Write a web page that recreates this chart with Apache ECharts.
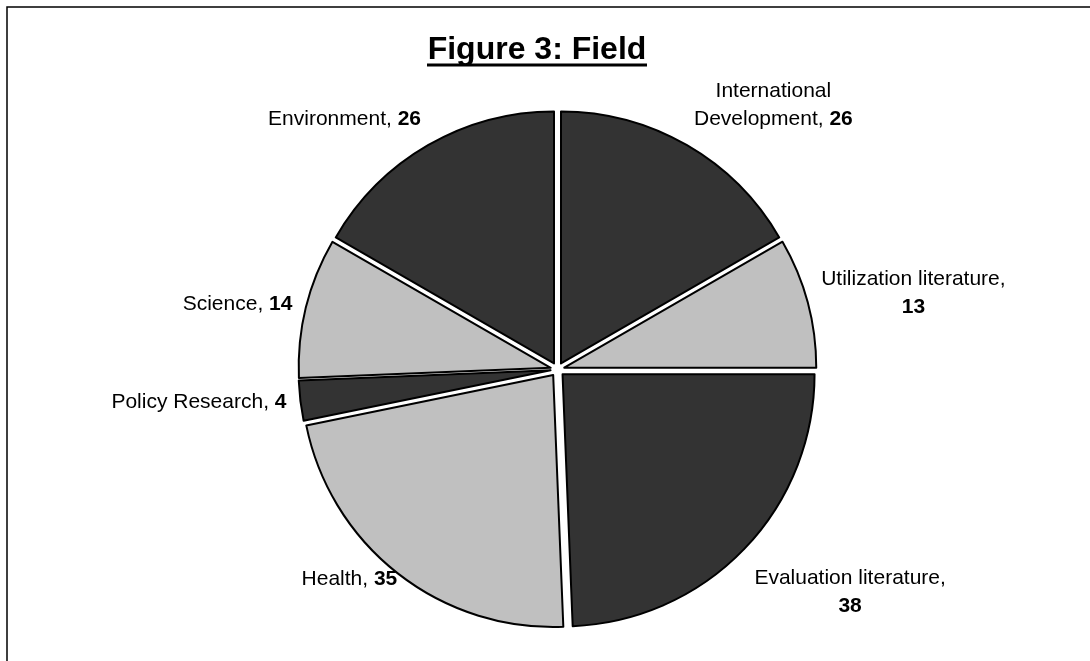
<!DOCTYPE html>
<html>
<head>
<meta charset="utf-8">
<script src="https://cdn.jsdelivr.net/npm/echarts@6/dist/echarts.min.js"></script>
<style>
html,body{margin:0;padding:0;background:#fff;}
#chart{width:1090px;height:661px;}
</style>
</head>
<body>
<div id="chart"></div>
<script>
// ---- data ----
const titleText = 'Figure 3: Field';
const categories = ['International\nDevelopment', 'Utilization literature', 'Evaluation literature', 'Health', 'Policy Research', 'Science', 'Environment'];
const values = [26, 13, 38, 35, 4, 14, 26];
const valueOnNewLine = [false, true, true, false, false, false, false];
const sliceColors = ['#333333', '#c0c0c0', '#333333', '#c0c0c0', '#333333', '#c0c0c0', '#333333'];
// label placement relative to its anchor on the slice bisector (style)
const labelSideX = [1, 1, 1, -0.83, -1, -1, -1];
const labelSideY = [-1, -0.2, 1.2, -0.4, 0, 0, -1];

// ---- layout ----
const FONT = "'Liberation Sans', Arial, sans-serif";
const FS = 21, LH = 28;
const CX = 557.5, CY = 369.5, R = 252, OFFSET = 7, LABEL_GAP = 14;

const total = values.reduce((a, b) => a + b, 0);
const midAngles = [];
let acc = 0;
values.forEach(v => { midAngles.push((acc + v / 2) / total * 2 * Math.PI); acc += v; });

function labelLines(i) {
  const lines = categories[i].split('\n').map(s => [s, '']);
  const last = lines.length - 1;
  if (valueOnNewLine[i]) {
    lines[last][0] += ',';
    lines.push(['', String(values[i])]);
  } else {
    lines[last][0] += ', ';
    lines[last][1] = String(values[i]);
  }
  return lines;
}
function labelText(i) {
  return labelLines(i).map(l => (l[0] ? '{n|' + l[0] + '}' : '') + (l[1] ? '{v|' + l[1] + '}' : '')).join('\n');
}
const ctx = document.createElement('canvas').getContext('2d');
function labelSize(i) {
  const lines = labelLines(i);
  let w = 0;
  lines.forEach(l => {
    ctx.font = FS + 'px ' + FONT;
    let lw = ctx.measureText(l[0]).width;
    ctx.font = 'bold ' + FS + 'px ' + FONT;
    lw += ctx.measureText(l[1]).width;
    w = Math.max(w, lw);
  });
  return {w: w, h: lines.length * LH};
}
const richStyles = {
  n: {fontFamily: FONT, fontSize: FS, fill: '#000', lineHeight: LH, align: 'center'},
  v: {fontFamily: FONT, fontSize: FS, fill: '#000', fontWeight: 'bold', lineHeight: LH, align: 'center'}
};
const labelGraphics = values.map((v, i) => {
  const a = midAngles[i];
  const d = R + OFFSET + LABEL_GAP;
  const ax = CX + d * Math.sin(a);
  const ay = CY - d * Math.cos(a);
  const s = labelSize(i);
  return {
    type: 'text',
    x: ax + labelSideX[i] * s.w / 2,
    y: ay + labelSideY[i] * s.h / 2,
    silent: true,
    style: {
      text: labelText(i),
      rich: richStyles,
      align: 'center',
      verticalAlign: 'middle'
    }
  };
});

const chart = echarts.init(document.getElementById('chart'), null, {renderer: 'canvas'});
chart.setOption({
  animation: false,
  backgroundColor: '#ffffff',
  title: {
    text: titleText,
    left: 537,
    textAlign: 'center',
    top: 34,
    padding: 0,
    textStyle: {fontFamily: FONT, fontSize: 32, fontWeight: 'bold', color: '#000'}
  },
  graphic: [
    {type: 'rect', shape: {x: 7, y: 7, width: 1110, height: 700}, style: {fill: 'none', stroke: '#000', lineWidth: 1.5}, silent: true},
    {type: 'line', shape: {x1: 427, y1: 65, x2: 647, y2: 65}, style: {stroke: '#000', lineWidth: 3}, silent: true}
  ].concat(labelGraphics),
  series: [{
    type: 'pie',
    center: [CX, CY],
    radius: R,
    startAngle: 90,
    clockwise: true,
    selectedMode: 'multiple',
    selectedOffset: OFFSET,
    emphasis: {disabled: true, scale: false},
    select: {itemStyle: {borderColor: '#000', borderWidth: 2}},
    itemStyle: {borderColor: '#000', borderWidth: 2},
    label: {show: false},
    labelLine: {show: false},
    data: values.map((v, i) => ({
      name: categories[i],
      value: v,
      selected: true,
      itemStyle: {color: sliceColors[i]},
      select: {itemStyle: {color: sliceColors[i]}}
    }))
  }]
});
</script>
</body>
</html>
